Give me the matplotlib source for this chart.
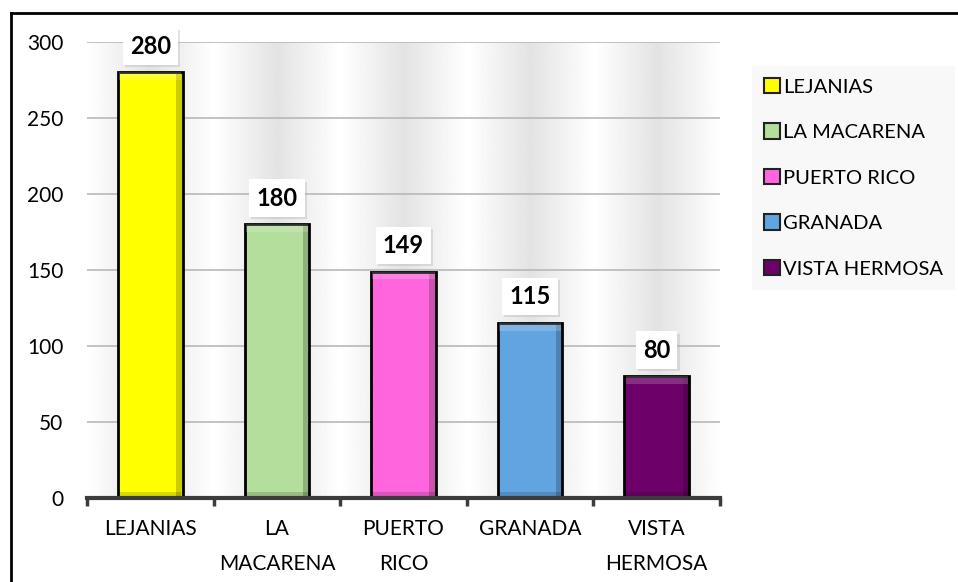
import numpy as np
import matplotlib
matplotlib.use("Agg")
import matplotlib.pyplot as plt
from matplotlib.lines import Line2D
from matplotlib import patheffects as pe

categories = ["LEJANIAS", "LA MACARENA", "PUERTO RICO", "GRANADA", "VISTA HERMOSA"]
tick_labels = ["LEJANIAS", "LA\nMACARENA", "PUERTO\nRICO", "GRANADA", "VISTA\nHERMOSA"]
values = [280, 180, 149, 115, 80]
colors = ["#FFFF00", "#B3DE9B", "#FF66DD", "#61A4E0", "#6E0069"]

plt.rcParams["font.family"] = ["Lato", "DejaVu Sans"]

fig = plt.figure(figsize=(9.58, 5.82), dpi=100)
ax = fig.add_axes([0.0908, 0.1443, 0.6608, 0.7835])

x = np.arange(len(categories))

# soft vertical shading: white at the band edges, grey toward the bar
prof = np.linspace(-1, 1, 80)
band = 1 - 0.11 * (1 - np.abs(prof))
bg = np.tile(band, len(categories))[None, :]
ax.imshow(bg, cmap="gray", vmin=0, vmax=1, aspect="auto",
          extent=(-0.5, len(categories) - 0.5, 0, 300), zorder=0)

ax.set_ylim(0, 300)
ax.set_xlim(-0.5, len(categories) - 0.5)
ax.set_yticks(range(0, 301, 50))
for gy in range(50, 301, 50):
    ax.axhline(gy, color="#b8b8b8", lw=1.2, zorder=1)

width = 0.51
ax.bar(x, values, width=width, color=colors, edgecolor="black",
       linewidth=2, zorder=3)
# bevel-like darker right/bottom edge and lighter top edge
ax.bar(x + width / 2 - 0.025, values, width=0.05, color="black", alpha=0.2,
       linewidth=0, zorder=4)
ax.bar(x, [5] * len(values), bottom=np.array(values) - 5, width=width - 0.02,
       color="white", alpha=0.18, linewidth=0, zorder=4)
ax.bar(x, [4] * len(values), width=width - 0.02, color="black", alpha=0.15,
       linewidth=0, zorder=4)

for xi, v in zip(x, values):
    t = ax.annotate(f"{v}", (xi, v), xytext=(0, 19), textcoords="offset points",
                    ha="center", va="center", fontsize=17, fontweight="bold",
                    zorder=6,
                    bbox=dict(boxstyle="square,pad=0.3", fc="white", ec="none"))
    t.get_bbox_patch().set_path_effects(
        [pe.SimplePatchShadow(offset=(1.5, -1.5), shadow_rgbFace="#b0b0b0", alpha=0.35),
         pe.Normal()])

for s in ["top", "right", "left"]:
    ax.spines[s].set_visible(False)
ax.spines["bottom"].set_color("#3c3c3c")
ax.spines["bottom"].set_linewidth(3)
ax.spines["bottom"].set_zorder(5)

ax.set_xticks(x)
ax.set_xticklabels(tick_labels, fontsize=15, linespacing=1.95)
ax.set_xticks(np.arange(-0.5, len(categories)), minor=True)
ax.tick_params(axis="x", which="major", length=0, pad=15)
ax.tick_params(axis="x", which="minor", length=6, width=2.5, color="#3c3c3c",
               direction="out")
ax.tick_params(axis="y", length=0, labelsize=15, pad=17)

handles = [plt.Rectangle((0, 0), 1, 1, fc=c, ec="#222222", lw=1.5) for c in colors]
leg = fig.legend(handles, categories, loc="upper left",
                 bbox_to_anchor=(0.785, 0.887), fontsize=14.5, frameon=True,
                 handlelength=0.8, handleheight=0.8, handletextpad=0.15,
                 labelspacing=1.38, borderpad=0.6, borderaxespad=0,
                 fancybox=False)
leg.get_frame().set_facecolor("#f7f7f7")
leg.get_frame().set_edgecolor("none")

# chart border (right/bottom fall outside the picture)
fig.add_artist(Line2D([0.0115, 0.0115], [0, 0.9785], color="black", lw=2,
                      transform=fig.transFigure))
fig.add_artist(Line2D([0.0115, 1], [0.9785, 0.9785], color="black", lw=2,
                      transform=fig.transFigure))

fig.savefig("out.png", dpi=100)
